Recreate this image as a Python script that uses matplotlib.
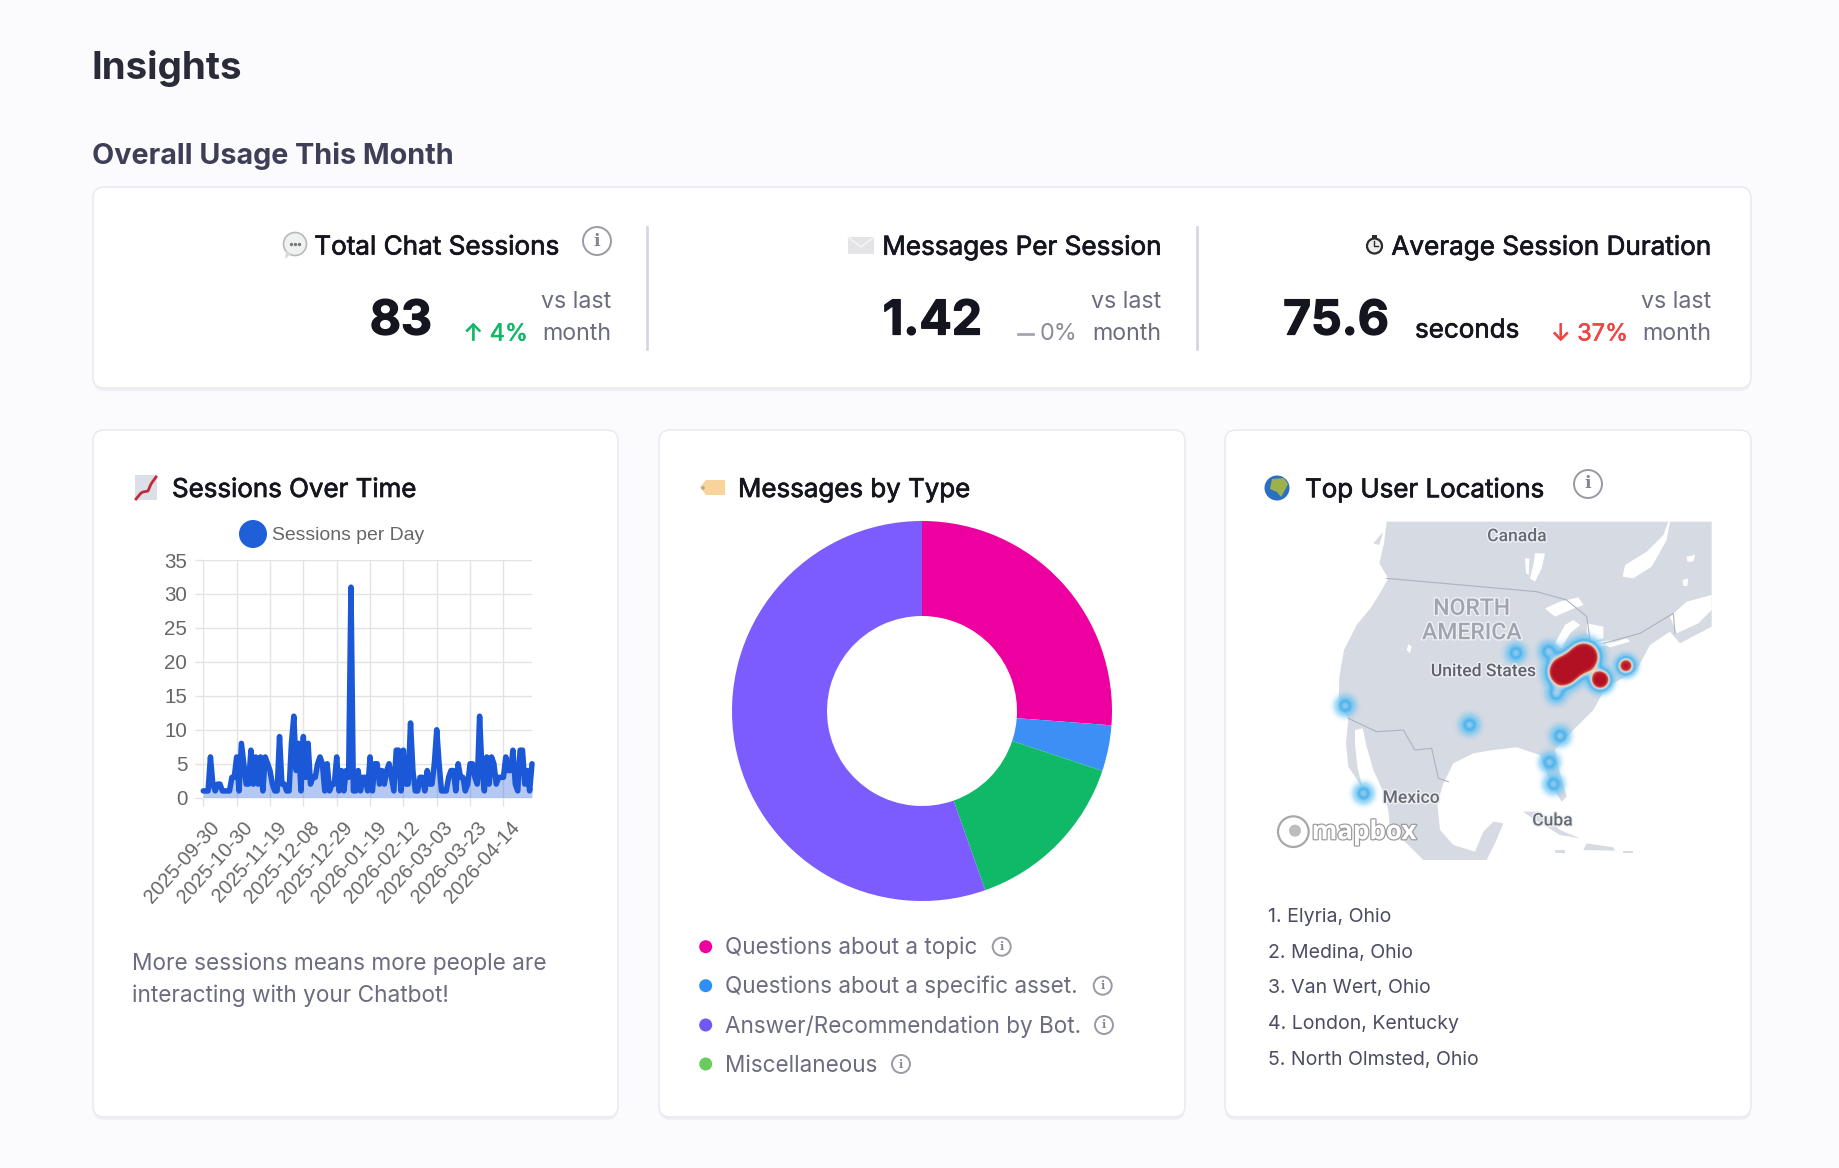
# -*- coding: utf-8 -*-
"""
Insights dashboard: usage cards, sessions line, message donut, location heat map
"""
import numpy as np
import matplotlib
matplotlib.use('Agg')
import matplotlib.pyplot as plt
import matplotlib.patheffects as pe
from matplotlib.colors import LinearSegmentedColormap
from matplotlib.patches import Circle, FancyBboxPatch, Polygon, Rectangle

W = 1839
H = 1168
FONT = 'Inter'
INK = '#15151f'
MUTED = '#6c6c80'

plt.rcParams['font.family'] = [FONT, 'DejaVu Sans']

# ---------- data ----------
sessions = [1, 1, 1, 6, 2, 1, 2, 2, 1, 1, 1, 1, 3, 3, 6, 1, 8, 5, 2, 2,
            7, 2, 6, 2, 6, 1, 6, 5, 4, 2, 1, 1, 9, 2, 2, 1, 1, 8, 12, 4,
            8, 1, 9, 3, 8, 2, 3, 3, 5, 6, 5, 1, 5, 1, 2, 2, 6, 1, 4, 1,
            4, 3, 31, 1, 1, 4, 1, 3, 3, 1, 6, 1, 5, 5, 2, 4, 2, 4, 5, 3,
            1, 7, 7, 1, 7, 2, 2, 11, 4, 1, 1, 3, 3, 1, 4, 2, 2, 5, 10, 5,
            1, 1, 1, 3, 4, 4, 1, 5, 3, 3, 1, 2, 5, 5, 3, 2, 12, 4, 1, 6,
            2, 6, 5, 2, 3, 3, 3, 6, 4, 4, 7, 2, 1, 7, 7, 2, 4, 1, 5]
date_ticks = ['2025-09-30', '2025-10-30', '2025-11-19', '2025-12-08', '2025-12-29',
              '2026-01-19', '2026-02-12', '2026-03-03', '2026-03-23', '2026-04-14']
tick_step = 14
y_ticks = [0, 5, 10, 15, 20, 25, 30, 35]

donut_values = [26.2, 3.9, 14.5, 55.4]
donut_colors = ['#ee00a0', '#3b8ff5', '#10b968', '#7c5cff']

legend_labels = ['Questions about a topic', 'Questions about a specific asset.',
                 'Answer/Recommendation by Bot.', 'Miscellaneous']
legend_colors = ['#ee00a0', '#2f8ff5', '#7357f5', '#6ccb5f']

top_locations = ['1. Elyria, Ohio', '2. Medina, Ohio', '3. Van Wert, Ohio',
                 '4. London, Kentucky', '5. North Olmsted, Ohio']

hot_x = [827, 925, 948, 315, 688, 960, 928, 940, 370, 1157, 1080, 968, 1000, 1032]
hot_y = [430, 425, 552, 588, 645, 678, 757, 822, 850, 468, 510, 486, 464, 442]
hot_w = [.26, .26, .26, .26, .26, .26, .26, .26, .26, .8, 1.2, 2.0, 1.0, 2.0]
hot_spread = [16, 16, 16, 16, 16, 16, 16, 16, 16, 15, 17, 23, 23, 23]

fig = plt.figure(figsize=(W / 100, H / 100), dpi=100, facecolor='#fbfbfe')


def px_axes(x0, y0, x1, y1, **kw):
    return fig.add_axes([x0 / W, 1 - y1 / H, (x1 - x0) / W, (y1 - y0) / H], **kw)


def fs(px):
    return px * 0.72


ax = px_axes(0, 0, W, H)
ax.set_xlim(0, W)
ax.set_ylim(H, 0)
ax.axis('off')


def label(x, y, s, size, color=INK, ha='left', weight='normal', heavy=0, **kw):
    t = ax.text(x, y + 2.5, s, fontsize=fs(size), color=color, ha=ha, va='center',
                fontweight=weight, **kw)
    if heavy:
        t.set_path_effects([pe.withStroke(linewidth=heavy, foreground=color)])


def card(x0, y0, x1, y1):
    shadow = FancyBboxPatch((x0, y0 + 3), x1 - x0, y1 - y0, boxstyle='round,pad=0,rounding_size=11',
                            fc='#e6e8f0', ec='none', alpha=.55, zorder=1)
    ax.add_patch(shadow)
    ax.add_patch(FancyBboxPatch((x0, y0), x1 - x0, y1 - y0, boxstyle='round,pad=0,rounding_size=11',
                                fc='white', ec='#e9ebf1', lw=1.2, zorder=2))


def info(x, y, r):
    ax.add_patch(Circle((x, y), r, fc='white', ec='#9a9aa6', lw=1.4, zorder=4))
    ax.text(x, y, 'i', fontsize=fs(r * 1.25), color='#85858f', ha='center', va='center',
            family='DejaVu Serif', fontweight='bold', zorder=5)


# ---------- headings and cards ----------
label(92, 66, 'Insights', 38.5, '#2a2a38', weight='bold')
label(92, 153.5, 'Overall Usage This Month', 28.75, '#3e3e56', weight='bold')

card(93, 187, 1751, 388)
card(93, 430, 618, 1117)
card(659, 430, 1185, 1117)
card(1225, 430, 1751, 1117)

for x in [647, 1197]:
    ax.plot([x, x], [227, 349], color='#d4d6de', lw=1.9, zorder=3)

# ---------- usage figures ----------
label(559, 245, 'Total Chat Sessions', 26.1, ha='right', heavy=.5, zorder=5)
label(1161, 245, 'Messages Per Session', 26.1, ha='right', heavy=.5, zorder=5)
label(1711, 245, 'Average Session Duration', 26.1, ha='right', heavy=.5, zorder=5)
info(597, 241, 14)

label(432, 319, '83', 48, ha='right', weight='bold', heavy=.9, zorder=5)
label(982, 319, '1.42', 48, ha='right', weight='bold', heavy=.9, zorder=5)
label(1389, 319, '75.6', 48, ha='right', weight='bold', heavy=.9, zorder=5)
label(1415, 328, 'seconds', 26, heavy=.5, zorder=5)

label(528, 332, '↑ 4%', 23.5, '#10b968', ha='right', heavy=.4, zorder=5)
ax.plot([1018, 1033], [334, 334], color='#a6a6b0', lw=2, zorder=5)
label(1077, 332, '0%', 23.5, '#8b8b98', ha='right', zorder=5)
label(1628, 332, '↓ 37%', 23.5, '#ef4444', ha='right', heavy=.4, zorder=5)
for x in [611, 1161, 1711]:
    label(x, 300, 'vs last', 23.2, MUTED, ha='right', zorder=5)
    label(x, 332, 'month', 23.2, MUTED, ha='right', zorder=5)

# small pictograms next to the headings
ax.add_patch(Circle((295, 244), 11.5, fc='#f0f1f1', ec='#b9b9bb', lw=1.2, zorder=5))
ax.add_patch(Polygon([(286, 251), (291, 254), (285, 259)], fc='#d8d8da', ec='none', zorder=5))
ax.scatter([291, 295, 299], [244, 244, 244], s=2, color='#777', zorder=6)
ax.add_patch(Rectangle((848, 237), 26, 17, fc='#e4e4e7', ec='none', zorder=5))
ax.plot([848, 861, 874], [237, 247, 237], color='#f4f4f6', lw=1.1, zorder=6)
ax.add_patch(Circle((1374.5, 246), 7.5, fc='#eeeeee', ec='#2b2b2f', lw=1.6, zorder=5))
ax.add_patch(Rectangle((1372, 235), 5, 3, fc='#2b2b2f', ec='none', zorder=5))
ax.plot([1374.5, 1374.5, 1378], [241, 246, 246], color='#2b2b2f', lw=1, zorder=6)

ax.add_patch(Rectangle((135, 475), 22, 25, fc='#dbe0e8', ec='none', zorder=5))
ax.plot([136, 141, 143, 148, 151, 156], [499, 493, 492, 491, 484, 477], color='#c22a3a', lw=2, zorder=6)
ax.add_patch(Polygon([(700, 487), (706, 480), (725, 480), (725, 495), (706, 495)],
                     fc='#f8d49a', ec='none', zorder=5))
ax.add_patch(Circle((703, 488), 1.8, fc='#b8a58c', ec='none', zorder=6))
ax.add_patch(Circle((1277, 488), 12.5, fc='#2a6fc4', ec='none', zorder=5))
ax.add_patch(Polygon([(1272, 479), (1284, 478), (1288, 484), (1285, 490), (1281, 497), (1277, 492), (1270, 489)],
                     fc='#9db04a', ec='none', zorder=6))

# ---------- card titles ----------
label(172, 488, 'Sessions Over Time', 25.9, heavy=.5, zorder=5)
label(738, 488, 'Messages by Type', 25.9, heavy=.5, zorder=5)
label(1305, 488, 'Top User Locations', 25.9, heavy=.5, zorder=5)
info(1588, 484, 14)

# ---------- sessions line ----------
line_ax = px_axes(203.3, 560, 532, 797.7)
line_ax.set_zorder(3)
line_ax.patch.set_alpha(0)
xs = np.arange(len(sessions))
line_ax.fill_between(xs, sessions, 0, color='#1a56db', alpha=.32, lw=0, zorder=2)
line_ax.plot(xs, sessions, color='#1a58d8', lw=fs(5.5), solid_joinstyle='round', solid_capstyle='round',
             clip_on=False, zorder=3)
line_ax.set_xlim(0, len(sessions) - 1)
line_ax.set_ylim(0, 35)
line_ax.set_yticks(y_ticks)
line_ax.set_xticks(xs[::tick_step])
line_ax.set_xticklabels([])
# date labels sit a little right of their ticks, so they are placed by hand
for tx, d in zip(xs[::tick_step], date_ticks):
    line_ax.annotate(d, xy=(tx, 0), xycoords=('data', 'axes fraction'), xytext=(fs(6), fs(-20)),
                     textcoords='offset points', rotation=48, ha='right', va='top', rotation_mode='anchor',
                     family='Liberation Sans', fontsize=fs(20), color='#666666', annotation_clip=False)
for t in line_ax.get_yticklabels():
    t.set_family('Liberation Sans')
    t.set_fontsize(fs(20.5))
    t.set_color('#666666')
line_ax.tick_params(length=fs(8), width=fs(1.4), color='#e3e3e3', pad=fs(5))
line_ax.tick_params(axis='y', pad=fs(8))
line_ax.grid(color='#e3e3e3', lw=fs(1.4), zorder=0)
line_ax.set_axisbelow(True)
for s in line_ax.spines.values():
    s.set_visible(False)

ax.add_patch(Circle((253, 534), 14, fc='#1f5fd8', ec='none', zorder=5))
label(272.5, 533, 'Sessions per Day', 19.4, '#666666', family='Liberation Sans', zorder=5)

label(132.5, 961, 'More sessions means more people are', 22.65, MUTED, zorder=5)
label(132.5, 993.5, 'interacting with your Chatbot!', 22.65, MUTED, zorder=5)

# ---------- donut ----------
donut_ax = px_axes(922 - 190, 711 - 190, 922 + 190, 711 + 190)
donut_ax.set_zorder(3)
donut_ax.pie(donut_values, colors=donut_colors, startangle=90, counterclock=False, radius=1,
             wedgeprops={'width': .5, 'linewidth': 0})
donut_ax.set_xlim(-1, 1)
donut_ax.set_ylim(-1, 1)

legend_y = [946.7, 985.7, 1025, 1064]
icon_x = [1001.7, 1102.7, 1104, 901]
for lab, col, y, ix in zip(legend_labels, legend_colors, legend_y, icon_x):
    ax.add_patch(Circle((705.7, y), 6.5, fc=col, ec='none', zorder=5))
    label(725.5, y - 1, lab, 22.5, MUTED, zorder=5)
    info(ix, y, 9)

# ---------- locations map ----------
# map units are three per pixel
map_ax = px_axes(1240, 510, 1730, 870)
map_ax.set_zorder(3)
map_ax.patch.set_alpha(0)
map_ax.axis('off')

LAND = '#d6dae2'
land = [(440, 35), (432, 100), (418, 160), (445, 205), (430, 232), (395, 290), (350, 345), (312, 420),
        (298, 500), (296, 580), (325, 628), (318, 700), (325, 770), (345, 800), (368, 835), (352, 770),
        (345, 700), (345, 660), (368, 655), (380, 710), (400, 780), (425, 835), (445, 900), (450, 960),
        (500, 1000), (550, 1050), (740, 1050), (765, 1000), (790, 940), (760, 935), (730, 965), (705, 1025),
        (640, 1005), (600, 960), (592, 880), (610, 820), (640, 760), (700, 730), (760, 720), (830, 712),
        (900, 735), (915, 775), (935, 830), (965, 875), (980, 860), (960, 790), (945, 720), (1000, 660),
        (1060, 600), (1090, 545), (1120, 520), (1190, 480), (1230, 405), (1290, 365), (1320, 400),
        (1415, 350), (1415, 35)]
water = [
    [(1285, 35), (1270, 75), (1220, 125), (1155, 165), (1148, 200), (1180, 205), (1235, 170), (1280, 90), (1290, 35)],
    [(1290, 320), (1340, 275), (1415, 255), (1415, 300), (1375, 340), (1310, 370)],
    [(885, 130), (915, 130), (905, 175), (885, 215), (870, 205), (880, 165)],
    [(855, 145), (868, 145), (866, 195), (858, 190)],
    [(915, 295), (960, 275), (1015, 262), (1030, 285), (990, 300), (945, 320)],
    [(945, 400), (975, 345), (1000, 330), (1020, 345), (990, 370), (965, 415)],
    [(1040, 340), (1090, 350), (1090, 385), (1055, 395), (1040, 370)],
    [(1065, 395), (1130, 390), (1075, 415)],
    [(1095, 405), (1160, 385), (1170, 395), (1110, 412)],
    [(1340, 140), (1365, 135), (1360, 155), (1342, 155)],
    [(1328, 210), (1345, 205), (1342, 228), (1330, 228)],
    [(505, 402), (515, 410), (510, 430), (500, 420)],
]
islands = [
    [(850, 905), (900, 905), (960, 960), (1020, 985), (960, 975), (870, 920)],
    [(945, 1020), (975, 1020), (975, 1030), (945, 1028)],
    [(1040, 1000), (1120, 1012), (1125, 1022), (1030, 1020)],
    [(1150, 1024), (1178, 1024), (1178, 1030), (1150, 1030)],
    [(400, 100), (430, 65), (418, 105)],
]
map_ax.add_patch(Polygon(land, fc=LAND, ec='none'))
for p in water:
    map_ax.add_patch(Polygon(p, fc='white', ec='none'))
for p in islands:
    map_ax.add_patch(Polygon(p, fc=LAND, ec='none'))

border_color = '#aeb2bc'
map_ax.plot([440, 890, 980, 1040, 1050], [205, 245, 270, 320, 390], color=border_color, lw=.8)
map_ax.plot([325, 410, 490, 525, 575, 595, 625], [625, 665, 660, 720, 715, 805, 815], color=border_color, lw=.8)
map_ax.plot([1090, 1200, 1300, 1305], [400, 370, 310, 370], color=border_color, lw=.8)

# heat density on a grid, coloured through a ramp that goes see-through at zero
gx, gy = np.meshgrid(np.arange(0, 1470, 1.5), np.arange(0, 1080, 1.5))
density = np.zeros_like(gx)
for hx, hy, hw, hs in zip(hot_x, hot_y, hot_w, hot_spread):
    density += hw * np.exp(-((gx - hx) ** 2 + (gy - hy) ** 2) / (2 * hs ** 2))
ramp = LinearSegmentedColormap.from_list('heat', [
    (0.0, (0.35, 0.75, 0.95, 0.0)),
    (0.05, (0.45, 0.78, 0.96, 0.55)),
    (0.22, (0.28, 0.70, 0.93, 1.0)),
    (0.36, (0.66, 0.82, 0.93, 1.0)),
    (0.52, (0.96, 0.85, 0.72, 1.0)),
    (0.62, (0.80, 0.22, 0.22, 1.0)),
    (1.0, (0.70, 0.07, 0.14, 1.0)),
])
map_ax.imshow(density, extent=(0, 1470, 1080, 0), cmap=ramp, vmin=0, vmax=.8, interpolation='bilinear',
              aspect='auto', zorder=3)
map_ax.set_xlim(0, 1470)
map_ax.set_ylim(1080, 0)

halo = [pe.withStroke(linewidth=2, foreground='#eef0f4')]
map_labels = [(830, 80, 'Canada', 17.5, '#666a74'), (730, 485, 'United States', 17.5, '#5e626c'),
              (513, 865, 'Mexico', 17.5, '#666a74'), (937, 933, 'Cuba', 17.5, '#666a74'),
              (695, 295, 'NORTH', 23, '#a0a4ae'), (695, 368, 'AMERICA', 23, '#a0a4ae')]
for mx, my, txt, size, col in map_labels:
    map_ax.text(mx, my, txt, fontsize=fs(size), color=col, ha='center', va='center', family='Roboto',
                fontweight='medium', path_effects=halo, zorder=4)

map_ax.add_patch(Circle((160, 965), 46, fc='white', ec='#a8a8a8', lw=1.6, zorder=5))
map_ax.add_patch(Circle((165, 962), 18, fc='#bdbdbd', ec='none', zorder=6))
map_ax.text(372, 965, 'mapbox', fontsize=fs(26), color='white', ha='center', va='center', family='Open Sans',
            fontweight='bold', path_effects=[pe.withStroke(linewidth=1.8, foreground='#9c9c9c')], zorder=6)

loc_y = [914.5, 950.5, 986, 1021.5, 1057]
for txt, y in zip(top_locations, loc_y):
    label(1268, y, txt, 19.5, '#4c4c62', zorder=5)

fig.savefig('out.png', dpi=100, facecolor=fig.get_facecolor())
